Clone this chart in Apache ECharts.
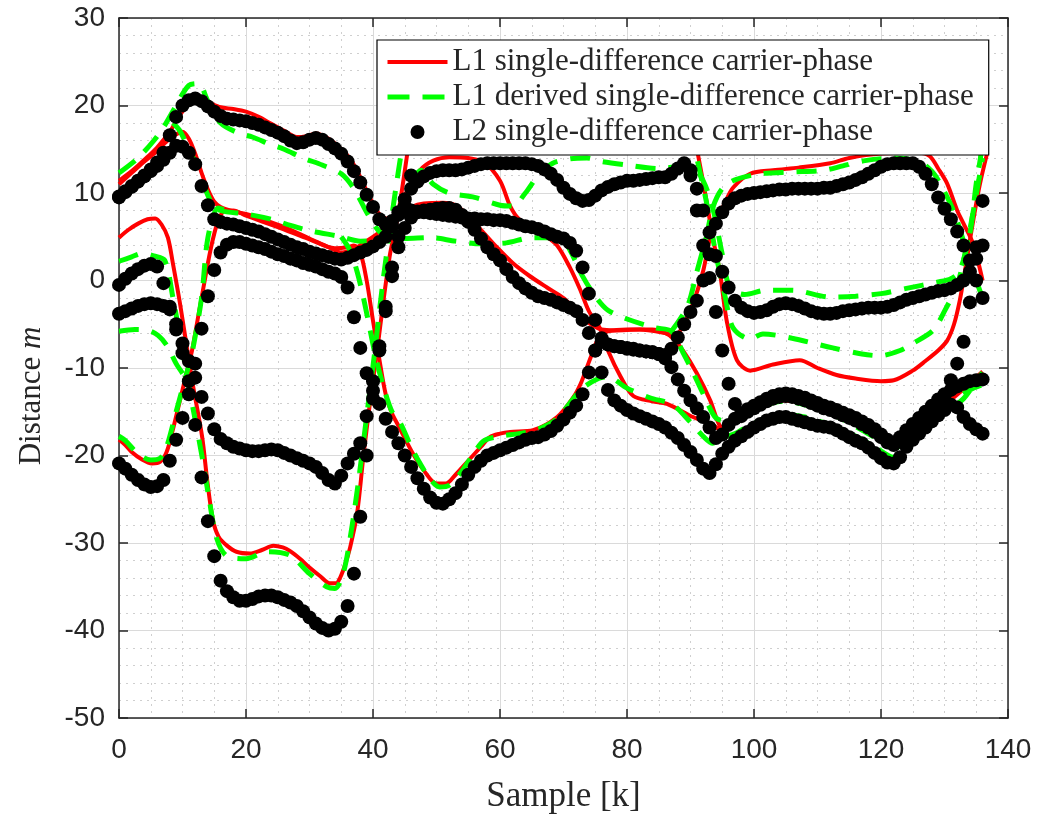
<!DOCTYPE html>
<html>
<head>
<meta charset="utf-8">
<script src="https://cdn.jsdelivr.net/npm/echarts@6/dist/echarts.min.js"></script>
<style>
  html, body { margin: 0; padding: 0; background: #ffffff; }
  #chart { width: 1042px; height: 819px; }
</style>
</head>
<body>
<div id="chart"></div>
<script>
// ---- axis ticks ----
const xTicks = [0, 20, 40, 60, 80, 100, 120, 140];
const yTicks = [-50, -40, -30, -20, -10, 0, 10, 20, 30];

// ---- legend names ----
const NAME_L1 = 'L1 single-difference carrier-phase';
const NAME_L1D = 'L1 derived single-difference carrier-phase';
const NAME_L2 = 'L2 single-difference carrier-phase';

// ---- L1 single-difference carrier-phase, [sample k, distance m] ----
const l1A = [[0,11],[2,12.3],[4,13.6],[6,14.8],[8,16.2],[10,17],[11,16.2],[12,14.5],[13,12.3],[14,10.4],[15,9],[16,8.4],[18,7.9],[20,7.6],[23,6.9],[26,6.1],[30,4.8],[33,3.8],[35,3.2],[37,3.6],[39,4.5],[41,5.5],[42.5,6.5],[44,8],[45.4,10.3],[47.4,12.6],[49.5,13.7],[52,14.1],[55,14],[57.5,13.5],[60,11.4],[61.6,8.5],[63,7],[65.2,6],[67,5.2],[69,4],[71,1.5],[72.6,-1],[74,-3.5],[75.7,-5.4],[77,-8],[79,-11],[81,-13.2],[84,-13.8],[86.3,-14.1],[90.4,-15.6],[93.5,-16.5],[94.6,-17],[96.7,-16.3],[100,-15],[104.6,-13.7],[108,-14],[112.4,-15.2],[117.8,-17.1],[121.9,-19.1],[125.7,-16.8],[130.9,-13.7],[135.1,-11.1],[136,-10.5]];
const l1D = [[0,11.4],[2,12.5],[4,13.8],[6,15.2],[8,17],[9.5,18.8],[11,20.2],[12.5,20.8],[14,20.4],[16,19.8],[18,19.6],[20,19.3],[22,18.7],[24,17.9],[26,17.1],[28,16.4],[29.5,16.5],[31,16.8],[33,16.2],[35,15],[36.5,13.8],[38,11.8],[39.5,9.5],[41,7.6],[42.5,7],[44,7.6],[46,8.4],[48,8.8],[51,8.9],[53,8.6],[55,7.4],[57,5.8],[59.5,3.8],[62,2],[64.5,0.6],[67.4,-0.8],[70,-2],[71.5,-3.1],[73.5,-4.6],[76,-5.6],[78,-5.7],[82,-5.6],[86,-6],[87.5,-6.3],[88.5,-5.6],[90.4,-2.6],[92,1.1],[93.1,4.9],[94.2,6.9],[95.5,9],[96.7,10.6],[99.4,12.2],[103,12.6],[107,12.9],[112,13.4],[115,14],[120,14.5],[126,14.6],[127.7,14.2],[129,12.8],[130.4,11.1],[132,8],[133,6.5],[134.5,4.2],[136,0]];
const l1C = [[0,-18.2],[1,-18.8],[2,-19.6],[3.5,-20.4],[5.2,-20.9],[6.5,-20.7],[7.5,-19.6],[8.5,-17],[9.5,-14],[10.5,-11],[11.5,-8],[12.5,-4],[13.5,0],[14.5,3.8],[15.5,6.6],[16.5,7.9],[18,8],[20,7.4],[25,6.1],[30,4.7],[34,3.7],[36,3.8],[37,4],[38,3.2],[39,0],[40,-4.6],[41,-9],[42,-13],[43,-15.2],[44,-16.6],[46.3,-19.8],[48,-21.7],[50,-23.2],[51.5,-23.2],[53,-22.2],[55,-20.6],[57,-19],[58.4,-17.9],[60,-17.5],[61.6,-17.3],[65.2,-17.1],[69,-15.6],[71.5,-13.4],[72.7,-11.8],[73.7,-9.9],[74.7,-8],[75.7,-6.3],[77,-5.8],[80,-5.6],[84,-5.6],[86,-6],[87.2,-6.6],[88.8,-8],[91,-10.6],[93.1,-13.7],[94.6,-16.6],[95.6,-16.8],[96.7,-16.2],[100,-14.8],[104.6,-13.5],[108,-13.8],[112.4,-15],[117.8,-16.9],[121.9,-18.9],[125.7,-16.6],[130.9,-13.5],[135.1,-11],[136,-10.4]];
const l1B1 = [[0,4.9],[1.5,5.8],[3,6.5],[4.5,7],[5.7,7.1],[6.7,6.4],[7.7,4.9],[8.5,1.9],[9.6,-2.6],[10.7,-7.7],[11.7,-12.2],[13.1,-17.9],[13.9,-22.9],[14.8,-27.4],[15.7,-29.3],[17,-30.3],[18.5,-31],[20.6,-31.2],[22.5,-30.8],[24.3,-30.3],[25.8,-30.5],[26.9,-30.9],[28.5,-31.8],[30,-32.8],[31.7,-33.8],[33.2,-34.6],[34.2,-34.6],[34.8,-34],[35.6,-32.5],[36.4,-30.5],[37.5,-26.6],[38.5,-20],[39.5,-14.1],[40.6,-8.3],[41.6,-2.6],[42.7,3.1],[43.8,6.9],[44.8,11.5],[45.8,16.5],[46.8,21]];
const l1B2 = [[89.5,21],[90.4,17],[91.2,14.3],[92.6,8.8],[93.5,4.9],[94.6,1.1],[95.7,-4.6],[97.3,-9.1],[99.4,-10.3],[103,-9.6],[107.2,-9.1],[110,-10],[113,-10.8],[116,-11.2],[120,-11.5],[122,-11.4],[125,-10.3],[127,-9.2],[129,-8],[130.4,-6.9],[131.5,-5],[132.4,-2.3],[133.2,1],[134,4.6],[134.8,8],[135.6,11.1],[136.7,14.5]];

// ---- L1 derived single-difference carrier-phase, [sample k, distance m] ----
const l1dD = [[0,12.3],[3,14],[5.5,16],[7,17.5],[9,20],[11,22.3],[12.5,22.5],[14,20.5],[16,18],[19,16.8],[21,16.4],[24,15.5],[26,15],[29,14],[32,13.2],[35,12.2],[37,10.5],[39,7.8],[41,5.6],[43,4.8],[45,4.8],[49,4.9],[53,4.5],[57,4.2],[61,4.3],[65,4.9],[69.4,4.9],[71,3.5],[73,0.5],[75,-1.8],[77,-3.4],[80,-4.4],[84.4,-5.4],[87,-5.8],[88.8,-8.2],[90.4,-10.5],[92.3,-13.4],[94,-15.7],[96,-16.1],[98,-15.2],[101,-14.4],[104.6,-13.8],[108,-14.2],[112.4,-15.3],[117,-17.1],[121,-18.8],[122,-19.2],[125.5,-17.2],[128,-15.5],[131,-13.9],[134,-12.5],[136,-11.9]];
const l1dA = [[8.5,18],[9.5,17.2],[10.5,15.8],[12,13.5],[13.3,11],[14.5,9],[16,8],[20,7.6],[24,7],[27,6.3],[30,5.7],[35,5],[38,4.5],[41,4.6],[43,5.5],[44.5,8],[46,11],[47.5,12.6],[49.5,11],[52,10],[56,9.5],[60,8.6],[62,8.5],[64,10],[66,12],[68.3,13.4],[71,13.9],[73.7,14],[76,13.6],[80,13.2],[85,12.8],[88,13],[90.4,12.9],[92,11.4],[93.5,8.3],[95,3],[96.2,-0.8],[98.5,-1.6],[102,-1.1],[106,-1.1],[112,-1.9],[116,-1.8],[120,-1.5],[124,-0.9],[128.8,-0.2],[131,0.2],[132.4,1.1],[134,5.4],[135,11.1],[135.6,13.7],[136,16]];
const l1dB1 = [[0,2.2],[2,2.7],[3.6,3.1],[5.5,2.8],[7.2,2.3],[8.5,-2],[10,-8],[11.5,-14],[13,-19.8],[14.2,-25],[15.4,-29.5],[17,-31.5],[20,-31.8],[23.3,-31],[26.9,-31.4],[30,-33.5],[32.7,-35],[34,-35.2],[35.3,-33.5],[36.5,-29],[37.7,-23],[39,-15.5],[40.3,-8],[41.5,-0.5],[42.8,6.5],[44,12.5],[45,17],[46,21]];
const l1dB2 = [[89,21],[90,17.5],[91,14],[92.5,9],[94,3],[95.5,-2],[96.7,-5.4],[99.4,-6.7],[101.4,-6.1],[106,-6.6],[112.4,-7.7],[117,-8.4],[119.8,-8.6],[123,-8],[125,-7.2],[128.2,-5.7],[130,-3.5],[132,-0.5],[133.5,4],[134.8,9],[136,14]];
const l1dE = [[0,-5.8],[2.5,-5.6],[4.6,-5.7],[6.2,-6.3],[7.6,-7.5],[9,-9.5],[10.2,-10.8]];
const l1dC = [[0,-17.8],[1,-18.3],[3,-19.8],[5,-20.5],[6.5,-20.3],[7.5,-19],[9,-15],[10.5,-11],[11.5,-8.3],[13,-2],[14,4.9],[15.6,8.3],[16.5,8.1]];
const l1dF = [[35,5],[36.4,3.4],[37.5,1],[38.5,-2],[39.5,-5.5],[40.5,-9],[41.8,-12.5],[43,-15],[44.3,-16.3],[46,-19],[47.4,-20.9],[49,-22.7],[50.5,-23.6],[52,-23.4],[54,-21.8],[56,-19.6],[57.5,-18.3],[60,-17.8],[63,-17.5],[66,-17],[69,-15.8],[71,-14],[73,-12.3],[75.5,-11.2],[76.9,-11],[80,-12.3],[83.6,-13.4],[87.2,-14.2],[90,-16.2],[92,-17.8],[93.5,-18.6],[95,-18],[97,-17.5],[100,-16.3],[104.6,-15.3],[108,-15.6],[112.4,-16.6],[116,-17.8],[119,-19],[122,-20.2],[124,-18.8],[127,-17],[130,-15.2],[133,-13.5],[135,-11.5],[136,-10.5]];
const l1dG = [[87,-5.8],[89.5,-3],[91,1],[92.5,5],[93.5,8.3],[95,10.5],[97,11.5],[101,12.2],[106,12.4],[111,12.6],[114,13.1],[117.5,13.7],[122,14],[126,13.6],[128,12.5],[129.3,11.1],[131.4,8],[133,4.5],[134.5,1],[136,-2]];

// ---- L2 single-difference carrier-phase, one value per sample k = 0..136 ----
const l2A = [9.5,10.1,10.7,11.3,11.9,12.5,13.1,13.8,14.6,15.4,
  15.3,14.6,13.3,10.8,8.6,7.0,6.7,6.5,6.4,6.2,
  6.0,5.8,5.6,5.3,5.0,4.7,4.4,4.1,3.8,3.6,
  3.3,3.1,2.9,2.7,2.5,2.4,2.6,2.9,3.2,3.5,
  3.9,4.4,5.0,6.2,7.8,9.3,10.5,11.3,11.9,12.3,
  12.5,12.6,12.6,12.6,12.7,12.9,13.1,13.3,13.4,13.4,
  13.4,13.4,13.4,13.4,13.4,13.3,13.1,12.7,12.2,11.5,
  10.6,9.9,9.4,9.1,9.2,9.7,10.3,10.7,11.0,11.2,
  11.4,11.4,11.5,11.6,11.7,11.8,11.8,12.2,12.8,13.4,
  12.6,10.5,8.0,5.5,2.8,1.0,-0.8,-2.3,-3.1,-3.5,
  -3.7,-3.6,-3.4,-3.0,-2.7,-2.6,-2.7,-2.9,-3.2,-3.5,
  -3.7,-3.8,-3.8,-3.7,-3.5,-3.4,-3.3,-3.2,-3.1,-3.1,
  -3.1,-3.0,-2.8,-2.5,-2.2,-2.0,-1.8,-1.6,-1.4,-1.2,
  -1.1,-0.9,-0.5,0.0,1.0,2.5,4.0];
const l2D = [9.6,10.2,10.8,11.4,12.0,12.7,13.5,14.6,16.6,18.7,
  20.0,20.6,20.8,20.5,19.9,19.3,18.8,18.5,18.4,18.3,
  18.2,18.0,17.8,17.5,17.2,16.9,16.5,16.0,15.7,15.8,
  16.1,16.3,16.1,15.6,15.1,14.5,13.6,12.5,11.2,9.8,
  8.4,7.0,6.4,6.8,7.5,7.9,8.0,7.9,7.8,7.7,
  7.6,7.5,7.4,7.3,7.2,7.1,7.1,7.0,7.0,6.9,
  6.9,6.8,6.6,6.4,6.2,6.1,5.9,5.6,5.3,5.0,
  4.8,4.3,3.4,1.5,-1.5,-4.5,-6.6,-7.3,-7.5,-7.6,
  -7.7,-7.8,-8.0,-8.1,-8.2,-8.4,-8.9,-9.9,-11.3,-12.6,
  -13.7,-14.6,-15.6,-16.8,-18.0,-17.6,-16.5,-15.8,-15.2,-14.7,
  -14.3,-13.9,-13.5,-13.2,-13.0,-12.9,-13.0,-13.2,-13.4,-13.7,
  -14.0,-14.3,-14.5,-14.8,-15.1,-15.4,-15.7,-16.1,-16.5,-17.0,
  -17.6,-18.2,-18.5,-17.9,-17.1,-16.4,-15.7,-15.0,-14.3,-13.6,
  -13.0,-12.5,-12.1,-11.8,-11.5,-11.4,-11.3];
const l2C = [-20.9,-21.5,-22.2,-22.8,-23.3,-23.6,-23.5,-22.8,-20.6,-18.2,
  -15.7,-13.0,-9.5,-5.5,-1.8,1.2,3.2,4.1,4.4,4.4,
  4.2,4.0,3.8,3.6,3.3,3.0,2.8,2.5,2.3,2.0,
  1.8,1.6,1.3,1.0,0.8,0.4,-0.8,-4.2,-7.7,-10.6,
  -12.6,-14.1,-15.8,-17.3,-18.6,-20.0,-21.3,-22.6,-23.8,-24.8,
  -25.4,-25.5,-25.0,-24.3,-23.3,-22.2,-21.3,-20.6,-20.0,-19.7,
  -19.4,-19.1,-18.8,-18.5,-18.2,-18.0,-17.9,-17.6,-17.2,-16.6,
  -15.9,-15.1,-14.3,-13.0,-10.5,-8.0,-7.0,-7.3,-7.5,-7.6,
  -7.8,-7.9,-8.0,-8.1,-8.2,-8.4,-8.5,-7.8,-6.5,-5.0,
  -3.6,-2.3,0.0,3.0,6.5,7.8,8.8,9.4,9.7,9.9,
  10.0,10.1,10.2,10.3,10.4,10.4,10.5,10.5,10.5,10.5,
  10.5,10.6,10.6,10.8,11.0,11.2,11.5,11.8,12.2,12.6,
  13.0,13.3,13.4,13.4,13.4,13.4,13.0,12.2,11.0,9.5,
  8.2,7.0,5.6,4.0,2.3,0.0,-2.0];
// samples 49..87 run above the legend box and are left out
const l2B = [-0.5,0.2,0.8,1.3,1.7,1.9,1.6,-0.3,-3.0,-5.6,
  -8.3,-11.5,-16.5,-22.5,-27.5,-31.5,-34.3,-35.5,-36.2,-36.6,
  -36.6,-36.4,-36.1,-36.0,-36.0,-36.2,-36.5,-36.8,-37.2,-37.8,
  -38.5,-39.2,-39.7,-40.0,-39.8,-39.0,-37.2,-33.5,-27.0,-20.0,
  -13.5,-8.0,-3.0,1.5,5.0,8.5,12.0,15.5,19.0,null,
  null,null,null,null,null,null,null,null,null,null,
  null,null,null,null,null,null,null,null,null,null,
  null,null,null,null,null,null,null,null,null,null,
  null,null,null,null,null,null,null,null,20.0,16.0,
  12.0,8.0,4.0,0.3,-3.6,-8.0,-11.8,-14.1,-15.5,-15.0,
  -14.6,-14.2,-13.8,-13.5,-13.3,-13.2,-13.3,-13.5,-13.7,-14.0,
  -14.3,-14.6,-14.8,-15.1,-15.4,-15.7,-16.0,-16.4,-16.8,-17.3,
  -17.9,-18.5,-18.8,-18.2,-17.4,-16.7,-16.0,-15.3,-14.6,-13.9,
  -13.2,-11.4,-9.5,-7.0,-2.5,3.8,9.1];
const l2E = [-3.8,-3.5,-3.2,-2.9,-2.7,-2.6,-2.7,-2.9,-3.3,-5.0,
  -7.2,-9.2,-11.1,-13.3,-15.2,-17.0,-18.1,-18.6,-19.0,-19.2,
  -19.4,-19.5,-19.5,-19.4,-19.3,-19.4,-19.7,-20.0,-20.3,-20.6,
  -20.9,-21.3,-22.0,-22.8,-23.2,-22.3,-20.9,-19.8,-18.6,-15.5,
  -11.5,-7.5,-3.5,0.5,3.8,6.0,7.2,7.8,8.0,8.1,
  8.2,8.3,8.3,8.1,7.5,6.7,5.8,4.8,3.8,3.0,
  2.3,1.3,0.4,-0.3,-0.9,-1.4,-1.8,-2.0,-2.2,-2.5,
  -2.8,-3.1,-3.5,-4.5,-6.0,-8.0,-10.5,-12.5,-13.7,-14.3,
  -14.8,-15.2,-15.5,-15.8,-16.1,-16.4,-16.8,-17.4,-18.0,-18.8,
  -19.6,-20.5,-21.5,-22.0,-21.0,-19.8,-19.0,-18.3,-17.8,-17.3,
  -16.8,-16.4,-16.0,-15.8,-15.6,-15.6,-15.8,-16.0,-16.2,-16.4,
  -16.6,-16.7,-16.8,-17.1,-17.5,-17.9,-18.3,-18.6,-19.1,-19.7,
  -20.3,-20.8,-20.9,-20.2,-19.0,-18.2,-17.5,-16.8,-16.1,-15.4,
  -14.8,-14.2,-14.5,-15.6,-16.4,-17.0,-17.5];

// ---- styles ----
const AXIS_COLOR = '#262626';
const SERIF = "'Liberation Serif', 'DejaVu Serif', serif";
const SANS = "'Liberation Sans', Arial, sans-serif";
const RED_LINE = { color: '#ff0000', width: 4 };
const GREEN_LINE = { color: '#00ff00', width: 5, type: [20, 13] };

function l1Series(points) {
  return {
    name: NAME_L1, type: 'line', data: points, z: 2,
    showSymbol: false, symbol: 'none', smooth: 0.3, clip: true,
    lineStyle: RED_LINE, itemStyle: { color: '#ff0000' },
    emphasis: { disabled: true }, silent: true
  };
}
function l1dSeries(points) {
  return {
    name: NAME_L1D, type: 'line', data: points, z: 3,
    showSymbol: false, symbol: 'none', smooth: 0.3, clip: true,
    lineStyle: GREEN_LINE, itemStyle: { color: '#00ff00' },
    emphasis: { disabled: true }, silent: true
  };
}
function l2Series(values) {
  const pts = [];
  values.forEach(function (v, k) { if (v !== null) pts.push([k, v]); });
  return {
    name: NAME_L2, type: 'scatter', data: pts, z: 4,
    symbol: 'circle', symbolSize: 14, clip: true,
    itemStyle: { color: '#000000', opacity: 1 },
    emphasis: { disabled: true }, silent: true
  };
}

const series = [
  l1Series(l1A), l1Series(l1D), l1Series(l1C), l1Series(l1B1), l1Series(l1B2),
  l1dSeries(l1dD), l1dSeries(l1dA), l1dSeries(l1dB1), l1dSeries(l1dB2),
  l1dSeries(l1dE), l1dSeries(l1dC), l1dSeries(l1dF), l1dSeries(l1dG),
  l2Series(l2A), l2Series(l2D), l2Series(l2C), l2Series(l2B), l2Series(l2E)
];

const axisLine = { show: true, onZero: false, lineStyle: { color: AXIS_COLOR, width: 1.5 } };
const axisTick = { show: true, inside: true, length: 9, lineStyle: { color: AXIS_COLOR, width: 1.5 } };
const majorGrid = { show: true, lineStyle: { color: '#dadada', width: 1 } };
const minorGrid = { show: true, lineStyle: { color: '#cfcfcf', width: 1, type: [2, 5] } };

const chart = echarts.init(document.getElementById('chart'), null, { renderer: 'canvas' });
chart.setOption({
  animation: false,
  backgroundColor: '#ffffff',
  grid: { left: 119, right: 34, top: 18, bottom: 101, containLabel: false },
  legend: {
    // line entries show only their stroke; the dot entry keeps its marker
    data: [
      { name: NAME_L1, itemStyle: { opacity: 0 }, lineStyle: { width: 4 } },
      { name: NAME_L1D, itemStyle: { opacity: 0 }, lineStyle: { width: 5, type: [22, 13] } },
      { name: NAME_L2 }
    ],
    orient: 'vertical', left: 377, top: 40,
    padding: [5, 15, 6, 8], itemGap: 1,
    itemWidth: 60, itemHeight: 14,
    backgroundColor: '#ffffff', borderColor: '#000000', borderWidth: 1.2, borderRadius: 0,
    selectedMode: false, z: 20,
    textStyle: { fontFamily: SERIF, fontSize: 31, color: AXIS_COLOR, lineHeight: 34 }
  },
  xAxis: [{
    type: 'value', position: 'bottom', min: xTicks[0], max: xTicks[xTicks.length - 1], interval: 20,
    axisLine: axisLine, axisTick: axisTick,
    axisLabel: { fontFamily: SANS, fontSize: 28, color: AXIS_COLOR, margin: 18 },
    splitLine: majorGrid,
    minorTick: { show: false, splitNumber: 4 },
    minorSplitLine: minorGrid,
    name: 'Sample [k]', nameLocation: 'middle', nameGap: 61,
    nameTextStyle: { fontFamily: SERIF, fontSize: 35, color: AXIS_COLOR }
  }, {
    type: 'value', position: 'top', min: xTicks[0], max: xTicks[xTicks.length - 1], interval: 20,
    axisLine: axisLine, axisTick: axisTick, axisLabel: { show: false }, splitLine: { show: false }
  }],
  yAxis: [{
    type: 'value', position: 'left', min: yTicks[0], max: yTicks[yTicks.length - 1], interval: 10,
    axisLine: axisLine, axisTick: axisTick,
    axisLabel: { fontFamily: SANS, fontSize: 28, color: AXIS_COLOR, margin: 14 },
    splitLine: majorGrid,
    minorTick: { show: false, splitNumber: 5 },
    minorSplitLine: minorGrid,
    name: '{n|Distance }{m|m}', nameLocation: 'middle', nameGap: 72, nameRotate: 90,
    nameTextStyle: {
      padding: [0, 56, 0, 0],
      rich: {
        n: { fontFamily: SERIF, fontSize: 31, color: AXIS_COLOR },
        m: { fontFamily: SERIF, fontSize: 31, fontStyle: 'italic', color: AXIS_COLOR }
      }
    }
  }, {
    type: 'value', position: 'right', min: yTicks[0], max: yTicks[yTicks.length - 1], interval: 10,
    axisLine: axisLine, axisTick: axisTick, axisLabel: { show: false }, splitLine: { show: false }
  }],
  series: series
});
</script>
</body>
</html>
